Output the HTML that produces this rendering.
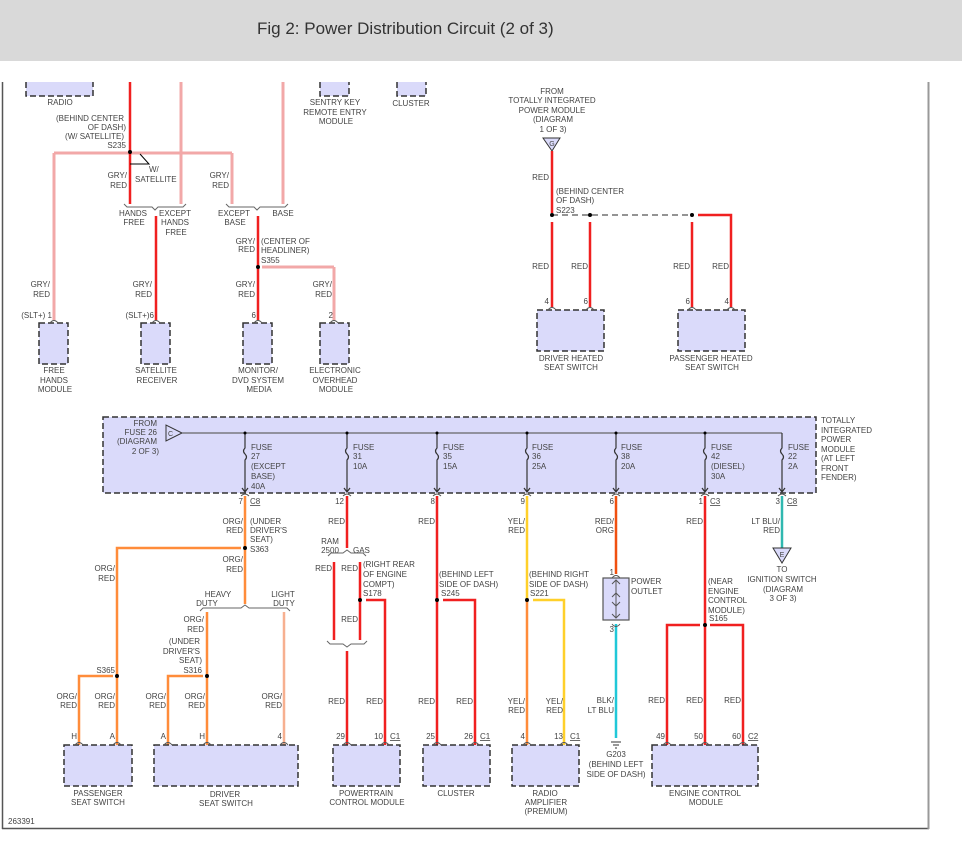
<!DOCTYPE html>
<html><head><meta charset="utf-8"><style>
html,body{margin:0;padding:0;background:#fff;width:962px;height:849px;overflow:hidden}
.hdr{position:absolute;left:0;top:0;width:962px;height:61px;background:#d9d9d9}
.hdr span{position:absolute;left:257px;top:19px;font:17px "Liberation Sans",sans-serif;color:#333}
svg{position:absolute;left:0;top:0}
text{font-family:"Liberation Sans",sans-serif;font-size:8px;fill:#444}
.bx{fill:#dadafa;stroke:#333;stroke-width:1.5;stroke-dasharray:6,3}
.pk{stroke:#f2a8a8;stroke-width:3;fill:none}
.rd{stroke:#f02020;stroke-width:2.5;fill:none}
.rdw{stroke:#f7b0b0;stroke-width:4;fill:none}
.or{stroke:#ff8c3a;stroke-width:2.5;fill:none}
.yl{stroke:#ffd02a;stroke-width:2.5;fill:none}
.gy{stroke:#666;stroke-width:1.2;fill:none}
.br{stroke:#666;stroke-width:1;fill:none}
</style></head><body>
<div class="hdr"><span>Fig 2: Power Distribution Circuit (2 of 3)</span></div>
<svg width="962" height="849" viewBox="0 0 962 849">
<!-- frame -->
<line x1="2.5" y1="82" x2="2.5" y2="829" stroke="#555" stroke-width="1.5"/>
<line x1="2" y1="828.5" x2="929" y2="828.5" stroke="#555" stroke-width="1.5"/>
<line x1="928.5" y1="82" x2="928.5" y2="829" stroke="#999" stroke-width="2"/>
<text x="8" y="824">263391</text>

<!-- top-left boxes -->
<path class="bx" d="M26 82 V96 H93 V82"/>
<text x="60" y="105" text-anchor="middle">RADIO</text>
<path class="bx" d="M320 82 V96 H349 V82"/>
<text x="335" y="105" text-anchor="middle">SENTRY KEY</text>
<text x="335" y="115" text-anchor="middle">REMOTE ENTRY</text>
<text x="336" y="124" text-anchor="middle">MODULE</text>
<path class="bx" d="M397 82 V96 H426 V82"/>
<text x="411" y="106" text-anchor="middle">CLUSTER</text>

<!-- wires top-left -->
<line class="pk" x1="54" y1="153" x2="232" y2="153"/>
<line class="pk" x1="54" y1="153" x2="54" y2="320"/>
<line class="pk" x1="232" y1="153" x2="232" y2="204"/>
<line class="pk" x1="181" y1="82" x2="181" y2="204"/>
<line class="pk" x1="283" y1="82" x2="283" y2="204"/>
<line class="rd" x1="130" y1="82" x2="130" y2="204"/>
<circle cx="130" cy="152" r="2" fill="#000"/>
<text x="124" y="121" text-anchor="end">(BEHIND CENTER</text>
<text x="126" y="130" text-anchor="end">OF DASH)</text>
<text x="124" y="139" text-anchor="end">(W/ SATELLITE)</text>
<text x="126" y="148" text-anchor="end">S235</text>
<path d="M130 164 H149 L140 154" stroke="#000" stroke-width="1" fill="none"/>
<text x="149" y="172">W/</text>
<text x="135" y="182">SATELLITE</text>
<text x="127" y="178" text-anchor="end">GRY/</text>
<text x="127" y="188" text-anchor="end">RED</text>
<text x="229" y="178" text-anchor="end">GRY/</text>
<text x="229" y="188" text-anchor="end">RED</text>
<path class="br" d="M124 204 l3 3 h25 l3 3 l3 -3 h25 l3 -3"/>
<path class="br" d="M226 204 l3 3 h25 l3 3 l3 -3 h25 l3 -3"/>
<text x="133" y="216" text-anchor="middle">HANDS</text>
<text x="134" y="225" text-anchor="middle">FREE</text>
<text x="175" y="216" text-anchor="middle">EXCEPT</text>
<text x="175" y="225" text-anchor="middle">HANDS</text>
<text x="176" y="235" text-anchor="middle">FREE</text>
<text x="234" y="216" text-anchor="middle">EXCEPT</text>
<text x="235" y="225" text-anchor="middle">BASE</text>
<text x="283" y="216" text-anchor="middle">BASE</text>
<line class="rd" x1="156" y1="216" x2="156" y2="320"/>
<line class="rd" x1="258" y1="216" x2="258" y2="320"/>
<line class="pk" x1="262" y1="267" x2="334" y2="267"/>
<line class="pk" x1="334" y1="267" x2="334" y2="320"/>
<circle cx="258" cy="267" r="2" fill="#000"/>
<text x="255" y="244" text-anchor="end">GRY/</text>
<text x="255" y="252" text-anchor="end">RED</text>
<text x="261" y="244">(CENTER OF</text>
<text x="261" y="253">HEADLINER)</text>
<text x="261" y="263">S355</text>
<text x="50" y="287" text-anchor="end">GRY/</text>
<text x="50" y="297" text-anchor="end">RED</text>
<text x="152" y="287" text-anchor="end">GRY/</text>
<text x="152" y="297" text-anchor="end">RED</text>
<text x="255" y="287" text-anchor="end">GRY/</text>
<text x="255" y="297" text-anchor="end">RED</text>
<text x="332" y="287" text-anchor="end">GRY/</text>
<text x="332" y="297" text-anchor="end">RED</text>
<text x="52" y="318" text-anchor="end">(SLT+) 1</text>
<text x="154" y="318" text-anchor="end">(SLT+)6</text>
<text x="256" y="318" text-anchor="end">6</text>
<text x="333" y="318" text-anchor="end">2</text>
<rect class="bx" x="39" y="323" width="29" height="41"/>
<rect class="bx" x="141" y="323" width="29" height="41"/>
<rect class="bx" x="243" y="323" width="29" height="41"/>
<rect class="bx" x="320" y="323" width="29" height="41"/>
<text x="54" y="373" text-anchor="middle">FREE</text>
<text x="54" y="383" text-anchor="middle">HANDS</text>
<text x="55" y="392" text-anchor="middle">MODULE</text>
<text x="156" y="373" text-anchor="middle">SATELLITE</text>
<text x="157" y="383" text-anchor="middle">RECEIVER</text>
<text x="258" y="373" text-anchor="middle">MONITOR/</text>
<text x="258" y="383" text-anchor="middle">DVD SYSTEM</text>
<text x="259" y="392" text-anchor="middle">MEDIA</text>
<text x="335" y="373" text-anchor="middle">ELECTRONIC</text>
<text x="335" y="383" text-anchor="middle">OVERHEAD</text>
<text x="336" y="392" text-anchor="middle">MODULE</text>

<!-- top-right -->
<text x="552" y="94" text-anchor="middle">FROM</text>
<text x="552" y="103" text-anchor="middle">TOTALLY INTEGRATED</text>
<text x="552" y="113" text-anchor="middle">POWER MODULE</text>
<text x="553" y="122" text-anchor="middle">(DIAGRAM</text>
<text x="553" y="132" text-anchor="middle">1 OF 3)</text>
<path d="M543 138 H560 L552 151 Z" fill="#dadafa" stroke="#333" stroke-width="1"/>
<text x="552" y="146" text-anchor="middle" style="font-size:7px">G</text>
<line class="rd" x1="552" y1="151" x2="552" y2="213"/>
<text x="549" y="180" text-anchor="end">RED</text>
<text x="556" y="194">(BEHIND CENTER</text>
<text x="556" y="203">OF DASH)</text>
<text x="556" y="213">S223</text>
<line x1="552" y1="215" x2="692" y2="215" stroke="#555" stroke-width="1.2" stroke-dasharray="6,4"/>
<circle cx="552" cy="215" r="2" fill="#000"/><circle cx="590" cy="215" r="2" fill="#000"/><circle cx="692" cy="215" r="2" fill="#000"/>
<path class="rd" d="M698 215 H731 V307"/>
<line class="rd" x1="552" y1="222" x2="552" y2="307"/>
<line class="rd" x1="590" y1="222" x2="590" y2="307"/>
<line class="rd" x1="692" y1="222" x2="692" y2="307"/>
<text x="549" y="269" text-anchor="end">RED</text>
<text x="588" y="269" text-anchor="end">RED</text>
<text x="690" y="269" text-anchor="end">RED</text>
<text x="729" y="269" text-anchor="end">RED</text>
<text x="549" y="304" text-anchor="end">4</text>
<text x="588" y="304" text-anchor="end">6</text>
<text x="690" y="304" text-anchor="end">6</text>
<text x="729" y="304" text-anchor="end">4</text>
<rect class="bx" x="537" y="310" width="67" height="41"/>
<rect class="bx" x="678" y="310" width="67" height="41"/>
<text x="571" y="361" text-anchor="middle">DRIVER HEATED</text>
<text x="571" y="370" text-anchor="middle">SEAT SWITCH</text>
<text x="711" y="361" text-anchor="middle">PASSENGER HEATED</text>
<text x="712" y="370" text-anchor="middle">SEAT SWITCH</text>

<!-- TIPM -->
<rect class="bx" x="103" y="417" width="713" height="76"/>
<text x="157" y="426" text-anchor="end">FROM</text>
<text x="157" y="435" text-anchor="end">FUSE 26</text>
<text x="157" y="444" text-anchor="end">(DIAGRAM</text>
<text x="159" y="454" text-anchor="end">2 OF 3)</text>
<path d="M166 425 V441 L182 433 Z" fill="#dadafa" stroke="#333" stroke-width="1"/>
<text x="168" y="436" style="font-size:7px">C</text>
<line class="gy" x1="182" y1="433" x2="782" y2="433"/>
<g stroke="#333" stroke-width="1.2" fill="none">
<path d="M245 433 V448 q-3 3 0 6 q3 3 0 6 V492 M242 488 l3 4 l3 -4"/>
<path d="M347 433 V448 q-3 3 0 6 q3 3 0 6 V492 M344 488 l3 4 l3 -4"/>
<path d="M437 433 V448 q-3 3 0 6 q3 3 0 6 V492 M434 488 l3 4 l3 -4"/>
<path d="M527 433 V448 q-3 3 0 6 q3 3 0 6 V492 M524 488 l3 4 l3 -4"/>
<path d="M616 433 V448 q-3 3 0 6 q3 3 0 6 V492 M613 488 l3 4 l3 -4"/>
<path d="M705 433 V448 q-3 3 0 6 q3 3 0 6 V492 M702 488 l3 4 l3 -4"/>
<path d="M782 433 V448 q-3 3 0 6 q3 3 0 6 V492 M779 488 l3 4 l3 -4"/>
</g>
<g fill="#000"><circle cx="245" cy="433" r="1.5"/><circle cx="347" cy="433" r="1.5"/><circle cx="437" cy="433" r="1.5"/><circle cx="527" cy="433" r="1.5"/><circle cx="616" cy="433" r="1.5"/><circle cx="705" cy="433" r="1.5"/></g>
<text x="251" y="450">FUSE</text><text x="251" y="459">27</text><text x="251" y="469">(EXCEPT</text><text x="251" y="479">BASE)</text><text x="251" y="489">40A</text>
<text x="353" y="450">FUSE</text><text x="353" y="459">31</text><text x="353" y="469">10A</text>
<text x="443" y="450">FUSE</text><text x="443" y="459">35</text><text x="443" y="469">15A</text>
<text x="532" y="450">FUSE</text><text x="532" y="459">36</text><text x="532" y="469">25A</text>
<text x="621" y="450">FUSE</text><text x="621" y="459">38</text><text x="621" y="469">20A</text>
<text x="711" y="450">FUSE</text><text x="711" y="459">42</text><text x="711" y="469">(DIESEL)</text><text x="711" y="479">30A</text>
<text x="788" y="450">FUSE</text><text x="788" y="459">22</text><text x="788" y="469">2A</text>
<text x="821" y="423">TOTALLY</text><text x="821" y="433">INTEGRATED</text><text x="821" y="442">POWER</text><text x="821" y="452">MODULE</text><text x="821" y="461">(AT LEFT</text><text x="821" y="471">FRONT</text><text x="821" y="480">FENDER)</text>

<!-- pin numbers under TIPM -->
<text x="243" y="504" text-anchor="end">7</text><text x="250" y="504" text-decoration="underline">C8</text>
<text x="344" y="504" text-anchor="end">12</text>
<text x="435" y="504" text-anchor="end">8</text>
<text x="525" y="504" text-anchor="end">9</text>
<text x="614" y="504" text-anchor="end">6</text>
<text x="703" y="504" text-anchor="end">1</text><text x="710" y="504" text-decoration="underline">C3</text>
<text x="780" y="504" text-anchor="end">3</text><text x="787" y="504" text-decoration="underline">C8</text>

<!-- orange group -->
<line class="or" x1="245" y1="496" x2="245" y2="604"/>
<circle cx="245" cy="548" r="2" fill="#000"/>
<path class="or" d="M241 548 H117 V745"/>
<text x="243" y="524" text-anchor="end">ORG/</text><text x="243" y="533" text-anchor="end">RED</text>
<text x="250" y="524">(UNDER</text><text x="250" y="533">DRIVER'S</text><text x="250" y="542">SEAT)</text><text x="250" y="552">S363</text>
<text x="243" y="562" text-anchor="end">ORG/</text><text x="243" y="572" text-anchor="end">RED</text>
<text x="115" y="571" text-anchor="end">ORG/</text><text x="115" y="581" text-anchor="end">RED</text>
<text x="218" y="597" text-anchor="middle">HEAVY</text><text x="207" y="606" text-anchor="middle">DUTY</text>
<text x="283" y="597" text-anchor="middle">LIGHT</text><text x="284" y="606" text-anchor="middle">DUTY</text>
<path class="br" d="M200 611 l3 -3 h38 l4 -3 l4 3 h38 l3 3"/>
<line class="or" x1="207" y1="612" x2="207" y2="745"/>
<line stroke="#f7b090" stroke-width="2.5" x1="284" y1="612" x2="284" y2="745"/>
<text x="204" y="622" text-anchor="end">ORG/</text><text x="204" y="632" text-anchor="end">RED</text>
<text x="200" y="644" text-anchor="end">(UNDER</text><text x="200" y="654" text-anchor="end">DRIVER'S</text><text x="202" y="663" text-anchor="end">SEAT)</text><text x="202" y="673" text-anchor="end">S316</text>
<circle cx="207" cy="676" r="2" fill="#000"/>
<path class="or" d="M203 676 H168 V745"/>
<circle cx="117" cy="676" r="2" fill="#000"/>
<text x="115" y="673" text-anchor="end">S365</text>
<path class="or" d="M113 676 H79 V745"/>
<text x="77" y="699" text-anchor="end">ORG/</text><text x="77" y="708" text-anchor="end">RED</text>
<text x="115" y="699" text-anchor="end">ORG/</text><text x="115" y="708" text-anchor="end">RED</text>
<text x="166" y="699" text-anchor="end">ORG/</text><text x="166" y="708" text-anchor="end">RED</text>
<text x="205" y="699" text-anchor="end">ORG/</text><text x="205" y="708" text-anchor="end">RED</text>
<text x="282" y="699" text-anchor="end">ORG/</text><text x="282" y="708" text-anchor="end">RED</text>
<text x="77" y="739" text-anchor="end">H</text><text x="115" y="739" text-anchor="end">A</text>
<text x="166" y="739" text-anchor="end">A</text><text x="205" y="739" text-anchor="end">H</text><text x="282" y="739" text-anchor="end">4</text>
<rect class="bx" x="64" y="745" width="68" height="41"/>
<rect class="bx" x="154" y="745" width="144" height="41"/>
<text x="98" y="796" text-anchor="middle">PASSENGER</text><text x="98" y="805" text-anchor="middle">SEAT SWITCH</text>
<text x="225" y="797" text-anchor="middle">DRIVER</text><text x="226" y="806" text-anchor="middle">SEAT SWITCH</text>

<!-- PCM -->
<line class="rd" x1="347" y1="496" x2="347" y2="548"/>
<text x="345" y="524" text-anchor="end">RED</text>
<text x="330" y="544" text-anchor="middle">RAM</text><text x="330" y="553" text-anchor="middle">2500</text>
<text x="353" y="553">GAS</text>
<path class="br" d="M328 556 l3 -3 h12 l4 -3 l4 3 h12 l3 3"/>
<line class="rd" x1="334" y1="562" x2="334" y2="640"/>
<line class="rd" x1="360" y1="562" x2="360" y2="640"/>
<text x="332" y="571" text-anchor="end">RED</text><text x="358" y="571" text-anchor="end">RED</text>
<text x="363" y="567">(RIGHT REAR</text><text x="363" y="577">OF ENGINE</text><text x="363" y="587">COMPT)</text><text x="363" y="596">S178</text>
<circle cx="360" cy="600" r="2" fill="#000"/>
<path class="rd" d="M366 600 H385 V745"/>
<text x="358" y="622" text-anchor="end">RED</text>
<path class="br" d="M327 641 l3 3 h13 l4 3 l4 -3 h13 l3 -3"/>
<line class="rd" x1="347" y1="651" x2="347" y2="745"/>
<text x="345" y="704" text-anchor="end">RED</text><text x="383" y="704" text-anchor="end">RED</text>
<text x="345" y="739" text-anchor="end">29</text><text x="383" y="739" text-anchor="end">10</text><text x="390" y="739" text-decoration="underline">C1</text>
<rect class="bx" x="333" y="745" width="67" height="41"/>
<text x="366" y="796" text-anchor="middle">POWERTRAIN</text><text x="367" y="805" text-anchor="middle">CONTROL MODULE</text>

<!-- Cluster -->
<line class="rd" x1="437" y1="496" x2="437" y2="745"/>
<text x="435" y="524" text-anchor="end">RED</text>
<text x="439" y="577">(BEHIND LEFT</text><text x="439" y="587">SIDE OF DASH)</text><text x="441" y="596">S245</text>
<circle cx="437" cy="600" r="2" fill="#000"/>
<path class="rd" d="M443 600 H475 V745"/>
<text x="435" y="704" text-anchor="end">RED</text><text x="473" y="704" text-anchor="end">RED</text>
<text x="435" y="739" text-anchor="end">25</text><text x="473" y="739" text-anchor="end">26</text><text x="480" y="739" text-decoration="underline">C1</text>
<rect class="bx" x="423" y="745" width="67" height="41"/>
<text x="456" y="796" text-anchor="middle">CLUSTER</text>

<!-- Radio amp -->
<line class="yl" x1="527" y1="496" x2="527" y2="600"/>
<line class="or" x1="527" y1="600" x2="527" y2="745"/>
<text x="525" y="524" text-anchor="end">YEL/</text><text x="525" y="533" text-anchor="end">RED</text>
<text x="529" y="577">(BEHIND RIGHT</text><text x="529" y="587">SIDE OF DASH)</text><text x="530" y="596">S221</text>
<circle cx="527" cy="600" r="2" fill="#000"/>
<path class="yl" d="M533 600 H564 V745"/>
<text x="525" y="704" text-anchor="end">YEL/</text><text x="525" y="713" text-anchor="end">RED</text>
<text x="563" y="704" text-anchor="end">YEL/</text><text x="563" y="713" text-anchor="end">RED</text>
<text x="525" y="739" text-anchor="end">4</text><text x="563" y="739" text-anchor="end">13</text><text x="570" y="739" text-decoration="underline">C1</text>
<rect class="bx" x="512" y="745" width="67" height="41"/>
<text x="545" y="796" text-anchor="middle">RADIO</text><text x="546" y="805" text-anchor="middle">AMPLIFIER</text><text x="546" y="814" text-anchor="middle">(PREMIUM)</text>

<!-- Power outlet -->
<line stroke="#f05010" stroke-width="2.5" x1="616" y1="496" x2="616" y2="574"/>
<text x="614" y="524" text-anchor="end">RED/</text><text x="614" y="533" text-anchor="end">ORG</text>
<text x="614" y="575" text-anchor="end">1</text>
<rect x="603" y="578" width="26" height="42" fill="#dadafa" stroke="#555" stroke-width="1.2"/>
<path d="M616 580 V618 M612 584 l4 -4 l4 4 M612 597 l4 -4 l4 4 M612 602 l4 4 l4 -4 M612 614 l4 4 l4 -4" stroke="#555" stroke-width="1" fill="none"/>
<text x="631" y="584">POWER</text><text x="631" y="594">OUTLET</text>
<text x="614" y="632" text-anchor="end">3</text>
<line stroke="#20c8d8" stroke-width="2.5" x1="616" y1="624" x2="616" y2="738"/>
<text x="614" y="703" text-anchor="end">BLK/</text><text x="614" y="713" text-anchor="end">LT BLU</text>
<path d="M611 742 h10 M613 745 h6 M615 748 h2" stroke="#333" stroke-width="1"/>
<text x="616" y="757" text-anchor="middle">G203</text>
<text x="616" y="767" text-anchor="middle">(BEHIND LEFT</text>
<text x="616" y="777" text-anchor="middle">SIDE OF DASH)</text>

<!-- ECM -->
<line class="rd" x1="705" y1="496" x2="705" y2="745"/>
<text x="703" y="524" text-anchor="end">RED</text>
<text x="708" y="584">(NEAR</text><text x="708" y="594">ENGINE</text><text x="708" y="603">CONTROL</text><text x="708" y="613">MODULE)</text><text x="709" y="621">S165</text>
<circle cx="705" cy="625" r="2" fill="#000"/>
<path class="rd" d="M700 625 H667 V745 M710 625 H743 V745"/>
<text x="665" y="703" text-anchor="end">RED</text><text x="703" y="703" text-anchor="end">RED</text><text x="741" y="703" text-anchor="end">RED</text>
<text x="665" y="739" text-anchor="end">49</text><text x="703" y="739" text-anchor="end">50</text><text x="741" y="739" text-anchor="end">60</text><text x="748" y="739" text-decoration="underline">C2</text>
<rect class="bx" x="652" y="745" width="106" height="41"/>
<text x="705" y="796" text-anchor="middle">ENGINE CONTROL</text><text x="706" y="805" text-anchor="middle">MODULE</text>

<!-- Ignition -->
<line stroke="#30b8b0" stroke-width="2.5" x1="782" y1="496" x2="782" y2="548"/>
<text x="780" y="524" text-anchor="end">LT BLU/</text><text x="780" y="533" text-anchor="end">RED</text>
<path d="M773 548 H791 L782 563 Z" fill="#dadafa" stroke="#333" stroke-width="1"/>
<text x="782" y="557" text-anchor="middle" style="font-size:7px">E</text>
<text x="782" y="572" text-anchor="middle">TO</text>
<text x="782" y="582" text-anchor="middle">IGNITION SWITCH</text>
<text x="783" y="592" text-anchor="middle">(DIAGRAM</text>
<text x="783" y="601" text-anchor="middle">3 OF 3)</text>

<!-- connector arcs -->
<g stroke="#555" stroke-width="1" fill="none">
<path d="M50 323 q4 -5 8 0 M152 323 q4 -5 8 0 M254 323 q4 -5 8 0 M330 323 q4 -5 8 0"/>
<path d="M548 310 q4 -5 8 0 M586 310 q4 -5 8 0 M688 310 q4 -5 8 0 M727 310 q4 -5 8 0"/>
<path d="M75 745 q4 -5 8 0 M113 745 q4 -5 8 0 M164 745 q4 -5 8 0 M203 745 q4 -5 8 0 M280 745 q4 -5 8 0"/>
<path d="M343 745 q4 -5 8 0 M381 745 q4 -5 8 0 M433 745 q4 -5 8 0 M471 745 q4 -5 8 0 M523 745 q4 -5 8 0 M560 745 q4 -5 8 0 M663 745 q4 -5 8 0 M701 745 q4 -5 8 0 M739 745 q4 -5 8 0"/>
<path d="M241 496 q4 -4 8 0 M343 496 q4 -4 8 0 M433 496 q4 -4 8 0 M523 496 q4 -4 8 0 M612 496 q4 -4 8 0 M701 496 q4 -4 8 0 M778 496 q4 -4 8 0"/>
<path d="M612 578 q4 -5 8 0 M612 624 q4 5 8 0"/>
</g>
</svg>
</body></html>
